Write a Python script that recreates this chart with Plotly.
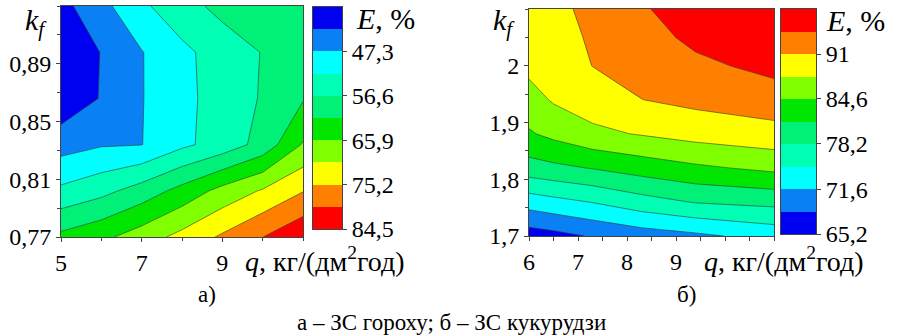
import plotly.graph_objects as go

# ---------------- data ----------------
# panel а) – pea
left_q = [5, 6, 7, 8, 9, 10, 11]
left_kf = [0.770, 0.802, 0.834, 0.866, 0.898, 0.930]
left_E = [
    [62.4, 64.8, 68.2, 72.0, 75.9, 79.8, 83.7],
    [52.9, 55.2, 58.6, 62.8, 67.4, 71.0, 75.0],
    [45.4, 46.9, 47.2, 51.0, 53.9, 58.25, 66.3],
    [39.1, 42.95, 47.1, 50.7, 53.9, 57.0, 60.9],
    [39.0, 42.8, 47.1, 50.9, 54.0, 56.8, 59.5],
    [41.2, 45.9, 51.1, 54.8, 58.0, 59.5, 60.8],
]
left_levels = [38.0, 42.65, 47.3, 51.95, 56.6, 61.25, 65.9, 70.55, 75.2, 79.85, 84.5]
left_cb_ticks = [47.3, 56.6, 65.9, 75.2, 84.5]
left_cb_labels = ["47,3", "56,6", "65,9", "75,2", "84,5"]
left_x_ticks = [5, 7, 9]
left_x_labels = ["5", "7", "9"]
left_y_ticks = [0.77, 0.81, 0.85, 0.89]
left_y_labels = ["0,77", "0,81", "0,85", "0,89"]

# panel б) – maize
right_q = [6, 6.5, 7.3, 8.3, 9.4, 11]
right_kf = [1.70, 1.76, 1.82, 1.88, 1.94, 2.00, 2.05, 2.10]
right_E = [
    [66.8, 67.4, 68.7, 70.0, 71.0, 72.8],
    [73.1, 73.9, 75.0, 76.8, 78.3, 79.0],
    [80.0, 80.6, 81.5, 82.8, 84.0, 85.3],
    [84.2, 85.4, 87.1, 88.0, 89.0, 89.9],
    [86.5, 88.1, 89.3, 90.97, 91.8, 92.7],
    [88.6, 89.3, 91.05, 92.0, 93.5, 95.15],
    [89.6, 90.1, 91.3, 92.9, 95.0, 96.0],
    [90.2, 90.4, 91.6, 93.9, 95.8, 96.8],
]
right_levels = [65.2, 68.425, 71.65, 74.875, 78.1, 81.325, 84.55, 87.775, 91.0, 94.225, 97.45]
right_cb_ticks = [65.2, 71.6, 78.2, 84.6, 91.0]
right_cb_labels = ["65,2", "71,6", "78,2", "84,6", "91"]
right_x_ticks = [6, 7, 8, 9]
right_x_labels = ["6", "7", "8", "9"]
right_y_ticks = [1.7, 1.8, 1.9, 2.0]
right_y_labels = ["1,7", "1,8", "1,9", "2"]

band_colors = ["#0000f0", "#0a80f5", "#00ffff", "#00ffb4", "#00f078",
               "#00e600", "#80ff00", "#ffff00", "#ff8000", "#ff0000"]

W, H = 902, 336
FONT = "Liberation Serif"


def px(x):
    return x / W


def py(y):
    return 1 - y / H


n = len(band_colors)
contour_cs = [[k / (n - 1), c] for k, c in enumerate(band_colors)]
step_cs = []
for k, c in enumerate(band_colors):
    step_cs.append([k / n, c])
    step_cs.append([(k + 1) / n, c])

fig = go.Figure()


def add_panel(q, kf, E, levels, xa, ya, xa_cb, ya_cb):
    fig.add_trace(go.Contour(
        x=q, y=kf, z=E, colorscale=contour_cs, showscale=False,
        autocontour=False,
        contours=dict(start=levels[1], end=levels[-2], size=levels[1] - levels[0],
                      coloring="fill", showlines=True),
        line=dict(color="rgba(50,50,50,0.85)", width=0.7, smoothing=0),
        xaxis=xa, yaxis=ya, hoverinfo="skip"))
    centers = [(a + b) / 2 for a, b in zip(levels[:-1], levels[1:])]
    fig.add_trace(go.Heatmap(
        x=[0], y=centers, z=[[i] for i in range(len(centers))],
        colorscale=step_cs, zmin=-0.5, zmax=len(centers) - 0.5,
        showscale=False, xaxis=xa_cb, yaxis=ya_cb, hoverinfo="skip"))


add_panel(left_q, left_kf, left_E, left_levels, "x", "y", "x2", "y2")
add_panel(right_q, right_kf, right_E, right_levels, "x3", "y3", "x4", "y4")

tickfont = dict(family=FONT, size=24, color="black")
frame = dict(showline=True, mirror=True, linecolor="#444", linewidth=1,
             showgrid=False, zeroline=False, ticks="outside", ticklen=4,
             tickcolor="#444", tickfont=tickfont)

fig.update_layout(
    template="none",
    width=W, height=H, margin=dict(l=0, r=0, t=0, b=0),
    font=dict(family=FONT, color="black", size=20),
    paper_bgcolor="white", plot_bgcolor="white", showlegend=False,
    xaxis=dict(domain=[px(61), px(303)], range=[5, 11], anchor="y",
               tickvals=left_x_ticks, ticktext=left_x_labels,
               minor=dict(dtick=1, tick0=5, ticks="outside", ticklen=3, tickcolor="#444"),
               **frame),
    yaxis=dict(domain=[py(237), py(6)], range=[0.77, 0.93], anchor="x",
               tickvals=left_y_ticks, ticktext=left_y_labels,
               minor=dict(dtick=0.02, tick0=0.77, ticks="outside", ticklen=3, tickcolor="#444"),
               **frame),
    xaxis2=dict(domain=[px(313), px(342)], range=[-0.5, 0.5], anchor="y2",
                showline=True, mirror=True, linecolor="#444", linewidth=1,
                showticklabels=False, ticks="", showgrid=False, zeroline=False),
    yaxis2=dict(domain=[py(229), py(7)], range=[left_levels[-1], left_levels[0]],
                anchor="x2", side="right",
                tickvals=left_cb_ticks, ticktext=left_cb_labels, **frame),
    xaxis3=dict(domain=[px(529), px(774)], range=[6, 11], anchor="y3",
                tickvals=right_x_ticks, ticktext=right_x_labels,
                minor=dict(dtick=0.5, tick0=6, ticks="outside", ticklen=4, tickcolor="#444"),
                **frame),
    yaxis3=dict(domain=[py(236), py(9)], range=[1.7, 2.1], anchor="x3",
                tickvals=right_y_ticks, ticktext=right_y_labels,
                minor=dict(dtick=0.05, tick0=1.7, ticks="outside", ticklen=3, tickcolor="#444"),
                **frame),
    xaxis4=dict(domain=[px(781), px(816)], range=[-0.5, 0.5], anchor="y4",
                showline=True, mirror=True, linecolor="#444", linewidth=1,
                showticklabels=False, ticks="", showgrid=False, zeroline=False),
    yaxis4=dict(domain=[py(234), py(9)], range=[right_levels[0], right_levels[-1]],
                anchor="x4", side="right",
                tickvals=right_cb_ticks, ticktext=right_cb_labels, **frame),
)


def note(text, x, y, size, xanchor="center", yanchor="middle"):
    fig.add_annotation(text=text, x=px(x), y=py(y), xref="paper", yref="paper",
                       xanchor=xanchor, yanchor=yanchor, showarrow=False,
                       font=dict(family=FONT, size=size, color="black"))


note("<i>k<sub>f</sub></i>", 36, 22, 30)
note("<i>k<sub>f</sub></i>", 504, 22, 30)
note("<i>q</i>, кг/(дм<sup>2</sup>год)", 243, 259, 28, xanchor="left")
note("<i>q</i>, кг/(дм<sup>2</sup>год)", 702, 259, 28, xanchor="left")
note("<i>E</i>, %", 354, 18, 30, xanchor="left")
note("<i>E</i>, %", 824, 20, 30, xanchor="left")
note("а)", 207, 294, 23)
note("б)", 686, 294, 23)
note("а – ЗС гороху; б – ЗС кукурудзи", 451, 322, 23)

fig.write_html("out.html")
